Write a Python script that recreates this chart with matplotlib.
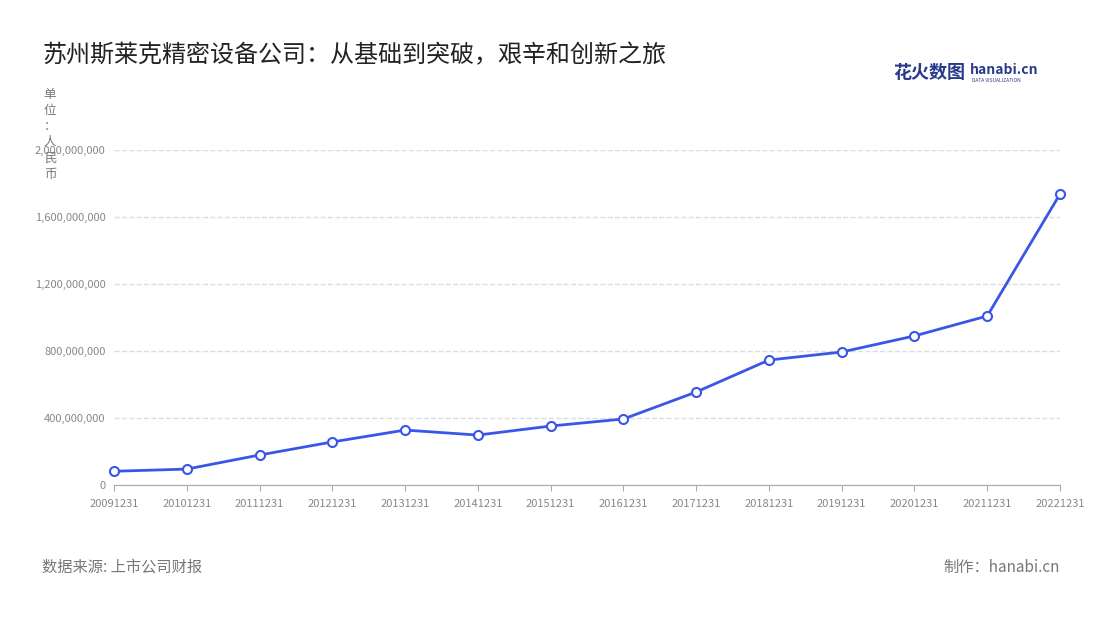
import matplotlib.pyplot as plt
from matplotlib.ticker import FuncFormatter

plt.rcParams['font.family'] = ['Noto Sans CJK SC', 'DejaVu Sans']

years = ['20091231', '20101231', '20111231', '20121231', '20131231', '20141231', '20151231',
         '20161231', '20171231', '20181231', '20191231', '20201231', '20211231', '20221231']
values = [82e6, 95e6, 179e6, 257e6, 328e6, 298e6, 352e6,
          394e6, 555e6, 746e6, 794e6, 890e6, 1009e6, 1737e6]

fig = plt.figure(figsize=(11, 6.2), dpi=100)
ax = fig.add_axes([114 / 1100, 1 - 485 / 620, (1060 - 114) / 1100, (485 - 150) / 620])

x = list(range(len(years)))
ax.plot(x, values, color='#3a56e8', linewidth=2, marker='o', markersize=6.5,
        markerfacecolor='white', markeredgecolor='#3a56e8', markeredgewidth=1.5,
        zorder=3, clip_on=False)

ax.set_xlim(0, len(years) - 1)
ax.set_ylim(0, 2e9)
ax.set_yticks([0, 4e8, 8e8, 12e8, 16e8, 20e8])
ax.yaxis.set_major_formatter(FuncFormatter(lambda v, p: f'{v:,.0f}'))
ax.set_xticks(x)
ax.set_xticklabels(years)
ax.tick_params(axis='both', labelsize=8, colors='#888888', length=0, pad=6)
ax.tick_params(axis='x', length=4, color='#aaaaaa')
ax.grid(axis='y', linestyle='--', color='#dddddd', linewidth=1)
for s in ['top', 'right', 'left']:
    ax.spines[s].set_visible(False)
ax.spines['bottom'].set_color('#aaaaaa')

fig.text(42 / 1100, 1 - 55 / 620, '苏州斯莱克精密设备公司：从基础到突破，艰辛和创新之旅',
         fontsize=17.3, color='#222222', va='center')
# the unit label overlaps the top tick label in the reference too
fig.text(50 / 1100, 1 - 88 / 620, '\n'.join('单位：人民币'), fontsize=9, color='#777777',
         ha='center', va='top', linespacing=1.3)
fig.text(42 / 1100, 1 - 567 / 620, '数据来源: 上市公司财报', fontsize=11, color='#777777', va='center')
fig.text(1060 / 1100, 1 - 567 / 620, '制作：hanabi.cn', fontsize=11, color='#777777', va='center', ha='right')
fig.text(893 / 1100, 1 - 72 / 620, '花火数图', fontsize=13, color='#2a3a8a', va='center', fontweight='bold')
fig.text(970 / 1100, 1 - 70 / 620, 'hanabi.cn', fontsize=10, color='#2a3a8a', va='center', fontweight='bold')
fig.text(972 / 1100, 1 - 80 / 620, 'DATA VISUALIZATION', fontsize=3.5, color='#2a3a8a', va='center')

fig.savefig('out.png', dpi=100)
